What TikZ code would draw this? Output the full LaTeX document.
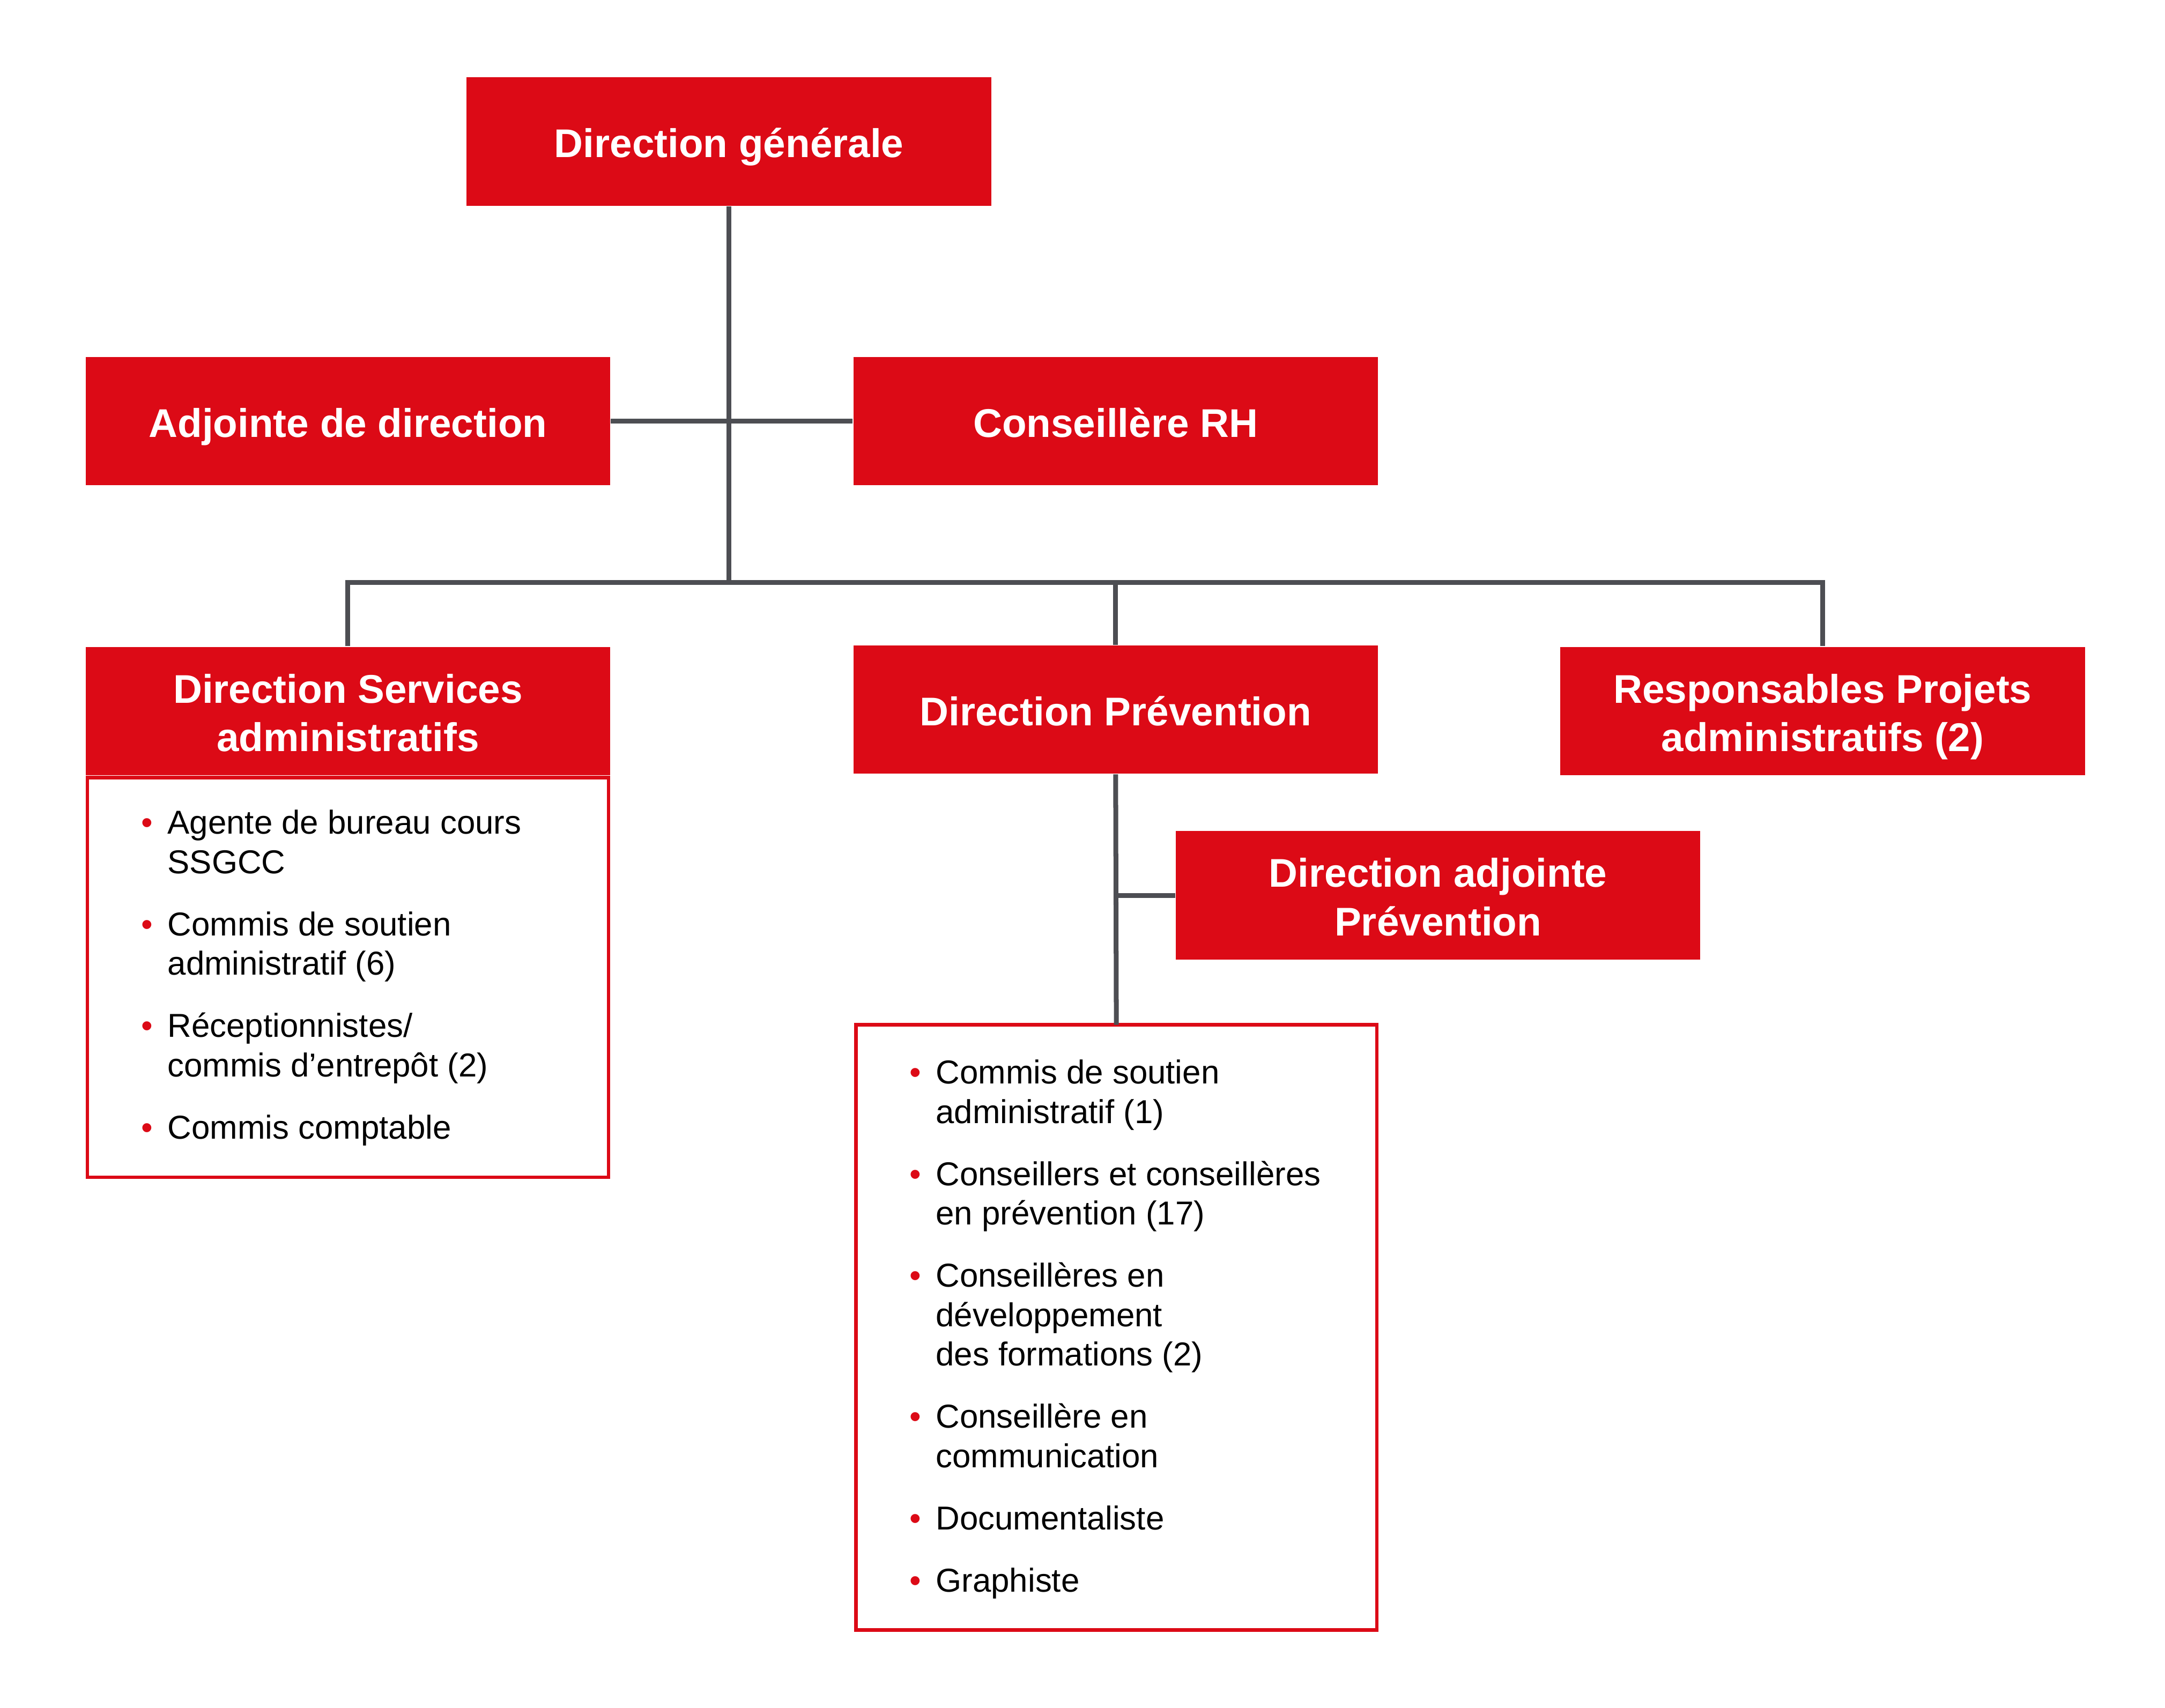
\documentclass[tikz,border=0pt]{standalone}
\usepackage{fontspec}
\setmainfont{Liberation Sans}
\usetikzlibrary{positioning}

\definecolor{orgred}{HTML}{DC0A16}
\definecolor{orggray}{HTML}{4D4E53}
\newcommand{\puce}{\textcolor{orgred}{\textbullet}}

\begin{document}
\begin{tikzpicture}[x=0.5pt,y=-0.5pt,
    headbox/.style={fill=orgred, text=white, font=\bfseries\fontsize{14.5}{17.5}\selectfont,
        align=center, minimum width=190pt, minimum height=46.5pt, inner sep=0pt,
        text height=11.6pt, text depth=0pt},
    twolines/.style={text height=29.1pt, text depth=0pt},
    listbox/.style={draw=orgred, line width=1.3pt, minimum width=188.7pt, inner sep=0pt, outer sep=0pt},
    listtext/.style={anchor=base west, inner sep=0pt, font=\fontsize{12}{14.3}\selectfont},
    link/.style={draw=orggray, line width=1.75pt}]

    % Fix the page size
    \useasboundingbox (0,0) rectangle (1568,1237);

    % Top of the chart
    \node[headbox] (dg) at (528,102.5) {Direction générale};
    \node[headbox] (adj) at (252,305) {Adjointe de direction};
    \node[headbox] (rh) at (808,305) {Conseillère RH};

    % The three directions
    \node[headbox, twolines] (dsa) at (252,515) {Direction Services\\administratifs};
    \node[headbox] (dp) at (808,514) {Direction Prévention};
    \node[headbox, twolines] (rpa) at (1320,515) {Responsables Projets\\administratifs (2)};
    \node[headbox, twolines] (dap) at (1041.5,648.5) {Direction adjointe\\Prévention};

    % Boxes with the staff lists
    \node[listbox, minimum height=144.7pt] (dsalist) at (252,708) {};
    \node[listbox, minimum height=219.2pt] (dplist) at (808.5,961.5) {};

    \node[listtext] (dsaitems) at (101.8,604) {%
        \begin{tabular}[t]{@{}l@{\hspace{5.4pt}}l@{}}
        \puce & Agente de bureau cours\\
              & SSGCC\\[8.2pt]
        \puce & Commis de soutien\\
              & administratif (6)\\[8.2pt]
        \puce & Réceptionnistes/\\
              & commis d’entrepôt (2)\\[8.2pt]
        \puce & Commis comptable
        \end{tabular}};

    \node[listtext] (dpitems) at (658.2,785) {%
        \begin{tabular}[t]{@{}l@{\hspace{5.4pt}}l@{}}
        \puce & Commis de soutien\\
              & administratif (1)\\[8.2pt]
        \puce & Conseillers et conseillères\\
              & en prévention (17)\\[8.2pt]
        \puce & Conseillères en\\
              & développement\\
              & des formations (2)\\[8.2pt]
        \puce & Conseillère en\\
              & communication\\[8.2pt]
        \puce & Documentaliste\\[8.2pt]
        \puce & Graphiste
        \end{tabular}};

    % Connectors
    \coordinate (bus) at (528,422);
    \draw[link] (dg.south) -- (bus);
    \draw[link] (adj.east) -- (rh.west);
    \draw[link] (dsa.north) |- (bus) -| (rpa.north);
    \draw[link] (dp.north) -- (dp.north |- bus);
    \draw[link] (dp.south) -- (dplist.north);
    \draw[link] (dap.west) -- (dap.west -| dp.south);

\end{tikzpicture}
\end{document}
